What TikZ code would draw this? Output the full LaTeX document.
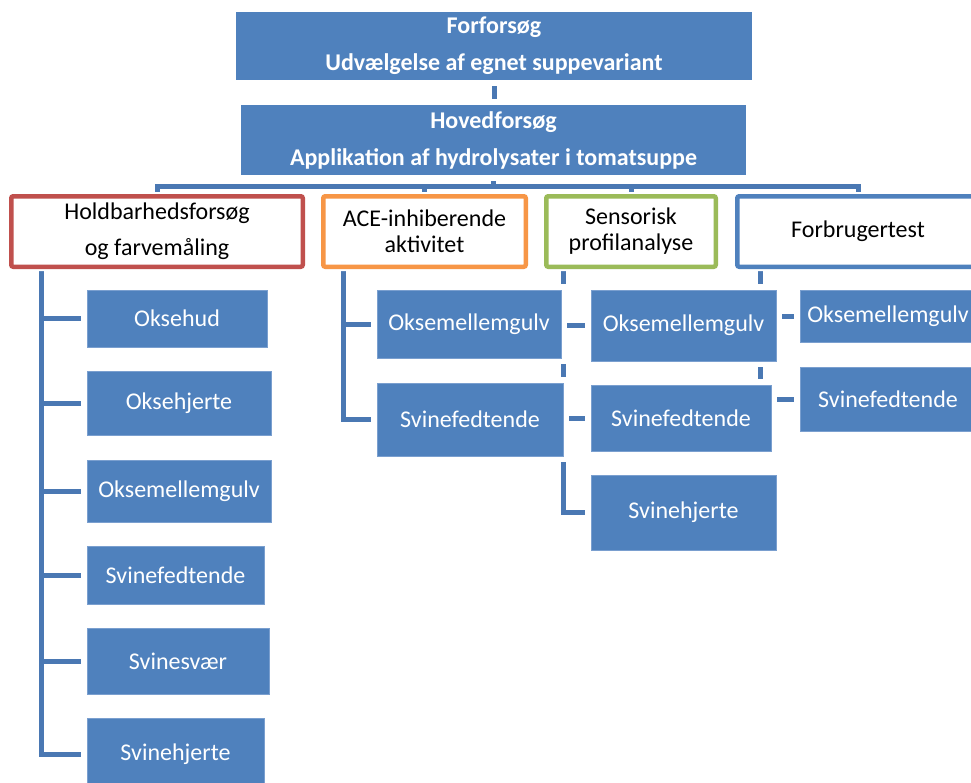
\documentclass[tikz,border=0pt]{standalone}
\usepackage{fontspec}
\setmainfont{Carlito}
\usetikzlibrary{backgrounds}
\definecolor{boxc}{HTML}{4F81BD}
\definecolor{edgec}{HTML}{7A9FCF}
\definecolor{linkc}{HTML}{4A78B3}
\definecolor{redc}{HTML}{C0504D}
\definecolor{orangec}{HTML}{F79646}
\definecolor{greenc}{HTML}{9BBB59}
\begin{document}
\begin{tikzpicture}[x=1pt,y=-1pt,
  conn/.style={draw=linkc, line width=5pt},
  topbox/.style={fill=boxc, draw=none, text=white, align=center, inner sep=0pt, outer sep=0pt,
     anchor=north west, font=\bfseries\fontsize{24}{37}\selectfont,
     preaction={draw=white, line width=12pt}},
  lvlbox/.style={fill=white, line width=4.5pt, rounded corners=2pt, text=black, align=center,
     inner sep=0pt, outer sep=0pt, anchor=north west,
     preaction={draw=white, line width=8.5pt}},
  child/.style={fill=boxc, draw=edgec, line width=1pt, text=white, align=center, inner sep=0pt,
     outer sep=0pt, anchor=north west, font=\fontsize{24}{28}\selectfont,
     preaction={draw=white, line width=12pt}}
]
\useasboundingbox (0,0) rectangle (971,782);
\clip (0,0) rectangle (971,782);

% top level
\node[topbox, minimum width=516, minimum height=68] (forf) at (236,12) {Forforsøg\\Udvælgelse af egnet suppevariant};
\node[topbox, minimum width=505, minimum height=70] (hoved) at (241,105) {Hovedforsøg\\Applikation af hydrolysater i tomatsuppe};

% second level
\node[lvlbox, draw=redc, minimum width=291.5, minimum height=70.5, font=\fontsize{24}{36}\selectfont] (hold) at (11.25,196.25) {Holdbarhedsforsøg\\og farvemåling};
\node[lvlbox, draw=orangec, minimum width=202.5, minimum height=70.5, font=\fontsize{24}{26}\selectfont] (ace) at (323.25,196.25) {ACE-inhiberende\\aktivitet};
\node[lvlbox, draw=greenc, minimum width=169.5, minimum height=70.5, font=\fontsize{24}{26}\selectfont] (sens) at (546.25,196.25) {Sensorisk\\profilanalyse};
\node[lvlbox, draw=boxc, minimum width=241.5, minimum height=70.5, font=\fontsize{24}{26}\selectfont] (forb) at (737.25,196.25) {Forbrugertest};

% column 1
\node[child, minimum width=180, minimum height=57] (c1a) at (87,290) {Oksehud};
\node[child, minimum width=184, minimum height=64] (c1b) at (87,371) {Oksehjerte};
\node[child, minimum width=184, minimum height=62] (c1c) at (87,460) {Oksemellemgulv};
\node[child, minimum width=177, minimum height=58] (c1d) at (87,546) {Svinefedtende};
\node[child, minimum width=182, minimum height=66] (c1e) at (87,628) {Svinesvær};
\node[child, minimum width=177, minimum height=72] (c1f) at (87,718) {Svinehjerte};

% column 2
\node[child, minimum width=184, minimum height=68] (c2a) at (377,290) {Oksemellemgulv};
\node[child, minimum width=186, minimum height=73] (c2b) at (377,383) {Svinefedtende};

% column 3
\node[child, minimum width=185, minimum height=71] (c3a) at (591,290) {Oksemellemgulv};
\node[child, minimum width=180, minimum height=66] (c3b) at (591,385) {Svinefedtende};
\node[child, minimum width=185, minimum height=75] (c3c) at (591,475) {Svinehjerte};

% column 4
\node[child, minimum width=176, minimum height=52] (c4a) at (800,290) {Oksemellemgulv};
\node[child, minimum width=176, minimum height=64] (c4b) at (800,367) {Svinefedtende};

\coordinate (bus) at (0,186);
\coordinate (s1) at (41,267);
\coordinate (s2) at (343,267);
\coordinate (s3) at (563,267);
\coordinate (s4) at (760,267);

\begin{scope}[on background layer]
  \fill[white] (0,0) rectangle (971,782);
  \draw[conn] (forf.south) -- (forf.south |- hoved.north);
  \draw[conn] (hoved.south) -- (hoved.south |- bus);
  \draw[conn] (hold.north) |- (forb.north |- bus) -- (forb.north);
  \draw[conn] (ace.north |- bus) -- (ace.north);
  \draw[conn] (sens.north |- bus) -- (sens.north);
  % column 1
  \draw[conn] (s1) |- (c1f.west);
  \foreach \n in {c1a,c1b,c1c,c1d,c1e} \draw[conn] (s1 |- \n.west) -- (\n.west);
  % column 2
  \draw[conn] (s2) |- (c2b.west);
  \draw[conn] (s2 |- c2a.west) -- (c2a.west);
  % column 3
  \draw[conn] (s3) |- (c3c.west);
  \foreach \n in {c3a,c3b} \draw[conn] (s3 |- \n.west) -- (\n.west);
  % column 4
  \draw[conn] (s4) |- (c4b.west);
  \draw[conn] (s4 |- c4a.west) -- (c4a.west);
\end{scope}
\end{tikzpicture}
\end{document}
